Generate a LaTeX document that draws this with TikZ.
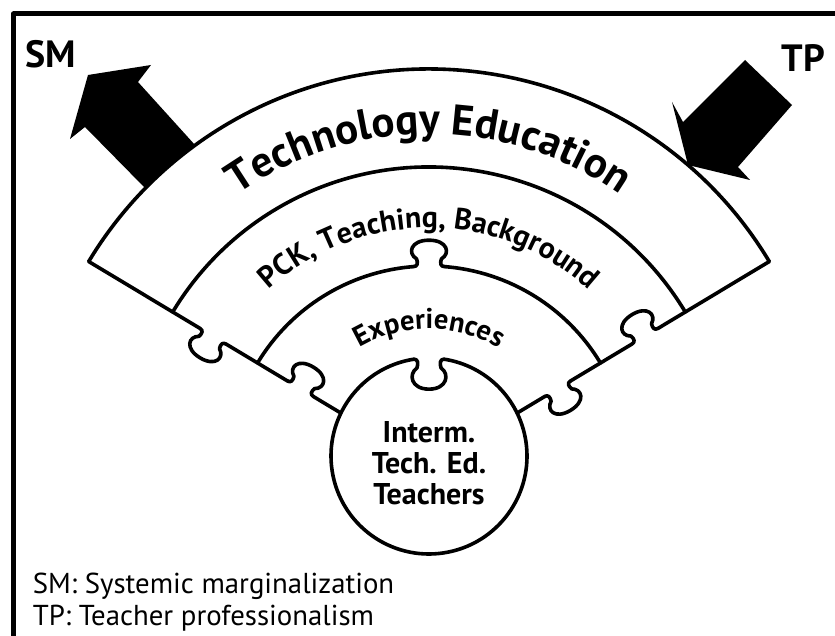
\documentclass[tikz,border=0pt]{standalone}
\usepackage{fontspec}
\setmainfont{PT Sans}
\usetikzlibrary{decorations.text}
\tikzset{geometry/.style={line width=3.6pt, line cap=round, line join=round}}
\tikzset{frameLine/.style={line width=5pt, line cap=butt}}
\tikzset{bigArrow/.style={fill=black, draw=none}}
\tikzset{arcLabel/.style={decorate, decoration={text along path, text align=center, text={#1}}}}
\tikzset{tab/.pic={\draw[geometry] (-10,0) .. controls (-7.5,0) and (-7,3) .. (-8,7) .. controls (-14,12) and (-12,24) .. (0,24) .. controls (12,24) and (14,12) .. (8,7) .. controls (7,3) and (7.5,0) .. (10,0);}}

\begin{document}
\begin{tikzpicture}[x=1pt,y=1pt,geometry]
\useasboundingbox (0,0) rectangle (835,635);
\draw[frameLine] (13.5,-5) -- (13.5,621) -- (840,621);
\coordinate (O) at (429,169);
\coordinate (ctr) at (429,179);
%
% rings
\begin{scope}[shift={(O)}]
\draw (31:397) arc[start angle=31, end angle=149, radius=397];
\draw (31:299) arc[start angle=31, end angle=149, radius=299];
\draw (149:200) arc[start angle=149, end angle=94.45, radius=200];
\draw (85.55:200) arc[start angle=85.55, end angle=31, radius=200];
\path (0,199.4) pic[xscale=1.55, yscale=1.1] {tab};
% side edges with tabs
\foreach \a in {149,31} {
  \begin{scope}[rotate=\a]
  \draw (397,0) -- (267,0) (237,0) -- (165,0) (135,0) -- (102.8,0);
  \path (252,0) pic[transform shape, xscale=1.5, yscale=1.05] {tab}
        (150,0) pic[transform shape, xscale=1.5, yscale=-1.05] {tab};
  \end{scope}
}
% curved labels
\path[arcLabel={|\bfseries\fontsize{43}{43}\selectfont|Technology Education}] (150:332) arc[start angle=150, end angle=30, radius=332];
\path[arcLabel={|\bfseries\fontsize{30}{30}\selectfont|PCK, Teaching, Background}] (150:238) arc[start angle=150, end angle=30, radius=238];
\path[arcLabel={|\bfseries\fontsize{28.5}{28.5}\selectfont|Experiences}] (150:137) arc[start angle=150, end angle=30, radius=137];
\end{scope}
%
% centre piece
\draw (ctr) ++(98.8:98) arc[start angle=98.8, end angle=441.2, radius=98];
\path (ctr) ++(0,96.85) pic[xscale=1.5, yscale=-1.25] {tab};
\draw (429,172) node[font=\bfseries\fontsize{30}{31}\selectfont, align=center, inner sep=0] (teachers) {Interm.\\Tech. Ed.\\Teachers};
%
% arrows
\fill[bigArrow] (145,447) -- (85,508) -- (70,496) -- (88,560) -- (151,570) -- (138,553) -- (195,490) -- cycle;
\fill[bigArrow] (745,575) -- (792,530) -- (738,468) -- (750,455) -- (688,470) -- (672,533) -- (683,513) -- cycle;
\draw (24,567) node[anchor=base west, inner sep=0, font=\bfseries\fontsize{38}{38}\selectfont] (sm) {SM};
\draw (780,563) node[anchor=base west, inner sep=0, font=\bfseries\fontsize{38}{38}\selectfont] (tp) {TP};
%
% legend
\draw (31,10) node[anchor=base west, inner sep=0, align=left, font=\fontsize{28.8}{32}\selectfont] (legend) {SM: Systemic marginalization\\TP: Teacher professionalism};
\end{tikzpicture}
\end{document}
